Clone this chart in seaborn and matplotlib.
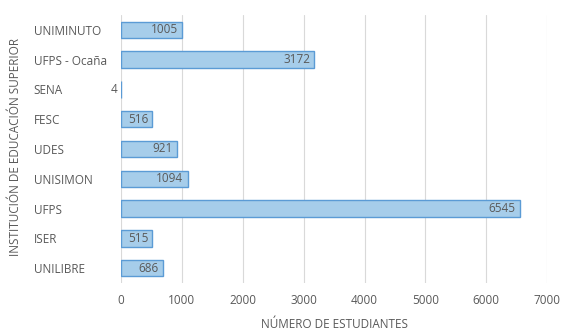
import matplotlib
matplotlib.use("Agg")
import matplotlib.pyplot as plt
import seaborn as sns
import pandas as pd

# data
instituciones = ["UNIMINUTO", "UFPS - Ocaña", "SENA", "FESC", "UDES",
                 "UNISIMON", "UFPS", "ISER", "UNILIBRE"]
estudiantes = [1005, 3172, 4, 516, 921, 1094, 6545, 515, 686]
x_ticks = [0, 1000, 2000, 3000, 4000, 5000, 6000, 7000]

df = pd.DataFrame({"inst": instituciones, "n": estudiantes})

sns.set_style("white")
plt.rcParams["font.family"] = ["Open Sans", "DejaVu Sans"]
gray = "#595959"

fig = plt.figure(figsize=(5.63, 3.31), dpi=100)
ax = fig.add_axes([0.215, 0.145, 0.757, 0.81])

sns.barplot(data=df, x="n", y="inst", order=instituciones, orient="h",
            color="#a6cdea", edgecolor="#5b9bd5", linewidth=1.0,
            width=0.55, saturation=1, ax=ax)

for i, v in enumerate(estudiantes):
    ax.annotate(str(v), xy=(v, i), xytext=(-3, 0), textcoords="offset points",
                ha="right", va="center", fontsize=8.5, color=gray)

ax.set_xlim(0, 7000)
ax.set_ylim(len(instituciones) - 0.5, -0.5)
ax.set_xticks(x_ticks)
ax.set_xticklabels([str(t) for t in x_ticks], fontsize=8.5, color=gray)
ax.grid(axis="x", color="#d9d9d9", linewidth=0.8)
ax.set_axisbelow(True)
for s in ax.spines.values():
    s.set_visible(False)
ax.tick_params(axis="both", length=0)
ax.tick_params(axis="x", pad=8)
ax.tick_params(axis="y", pad=63)
for lbl in ax.get_yticklabels():
    lbl.set_ha("left")
    lbl.set_fontsize(8.5)
    lbl.set_color(gray)

ax.set_xlabel("NÚMERO DE ESTUDIANTES", fontsize=8.5, color=gray, labelpad=8)
ax.set_ylabel("")
fig.text(0.027, 0.555, "INSTITUCIÓN DE EDUCACIÓN SUPERIOR", rotation=90,
         ha="center", va="center", fontsize=8.5, color=gray)

fig.savefig("out.png", dpi=100, facecolor="white")
